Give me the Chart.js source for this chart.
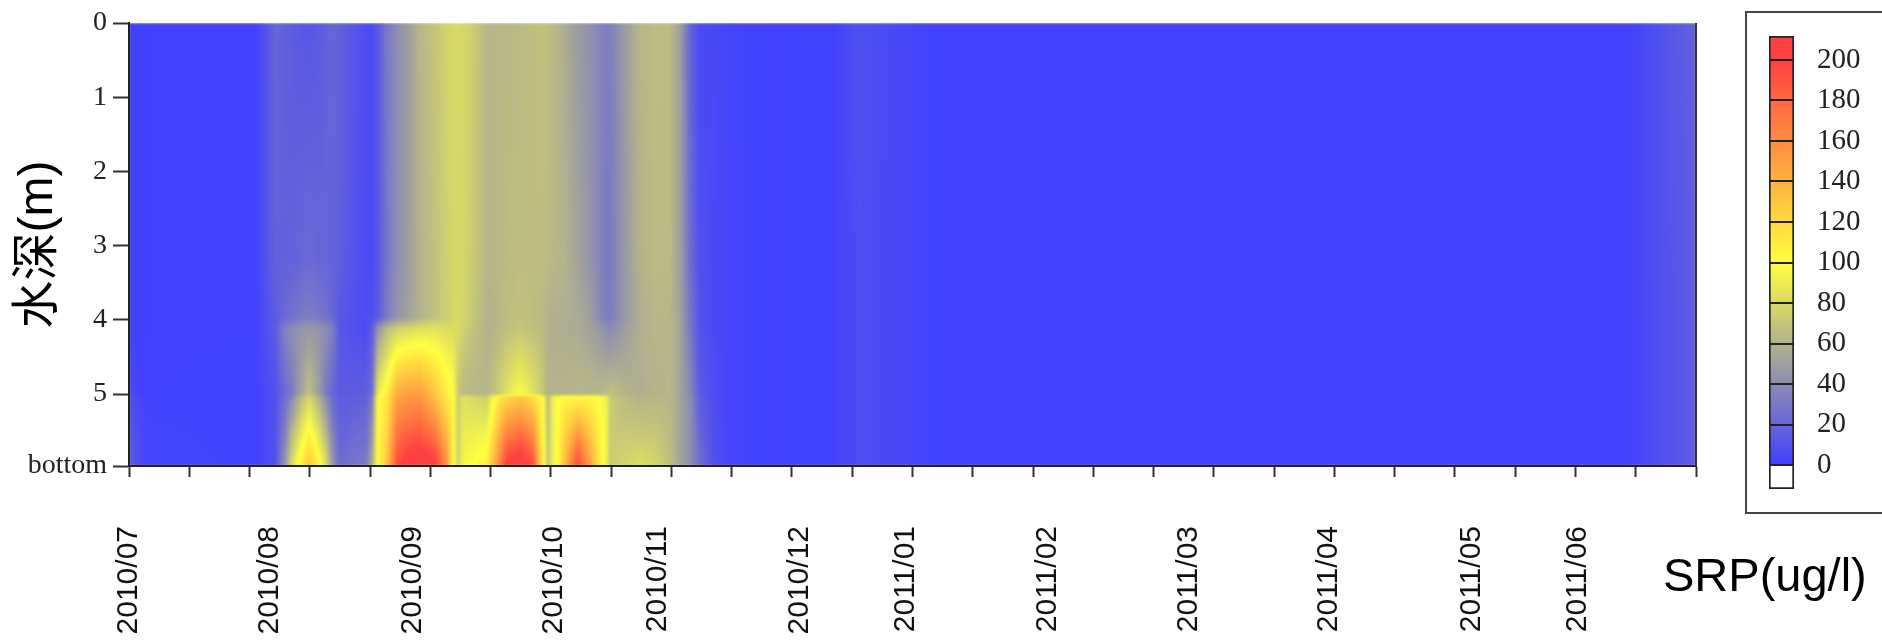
<!DOCTYPE html>
<html>
<head>
<meta charset="utf-8">
<title>SRP</title>
<script src="https://cdn.jsdelivr.net/npm/chart.js@4"></script>
<style>
    html, body { margin: 0; padding: 0; background: #fff; }
    #main { position: absolute; left: 0; top: 0; }
    #colorBox { position: absolute; left: 1745px; top: 11px; width: 135px; height: 499px; border: 2px solid #444; }
    #colorBar { position: absolute; left: 0; top: 0; }
</style>
</head>
<body>
<canvas id="main" width="1882" height="640"></canvas>
<div id="colorBox"><canvas id="colorBar" width="135" height="499"></canvas></div>
<script>
const depthTicks = [0, 1, 2, 3, 4, 5, 5.97];
const depthLabels = ['0', '1', '2', '3', '4', '5', 'bottom'];
const monthTicks = [0, 2.34, 4.70, 7.05, 8.78, 11.13, 12.88, 15.25, 17.59, 19.91, 22.28, 24.03];
const monthLabels = ['2010/07', '2010/08', '2010/09', '2010/10', '2010/11', '2010/12', '2011/01', '2011/02', '2011/03', '2011/04', '2011/05', '2011/06'];
const legendTicks = [0, 20, 40, 60, 80, 100, 120, 140, 160, 180, 200];

// sample positions along the time axis, in axis tick units
const sampleX = [
    0, 0.27, 2.09, 2.21, 2.42, 2.59, 2.70, 2.84, 2.99, 3.14,
    3.27, 3.38, 3.50, 3.70, 3.93, 4.03, 4.13, 4.28, 4.45, 4.61,
    4.83, 5.08, 5.28, 5.38, 5.46, 5.54, 5.71, 5.94, 6.02, 6.16,
    6.27, 6.49, 6.70, 6.82, 6.90, 6.95, 7.02, 7.10, 7.23, 7.45,
    7.65, 7.81, 7.93, 7.98, 8.23, 8.48, 8.73, 8.98, 9.14, 9.31,
    9.47, 9.72, 9.97, 10.64, 11.71, 12.13, 12.79, 13.46, 24.74, 25.07,
    25.40, 25.74, 26
];

// SRP (ug/l) read at each depth
const srpDepth0 = [
    0, 0, 0, 6, 20, 17, 15, 13, 12, 14,
    17, 20, 18, 12, 7, 5, 14, 30, 40, 48,
    62, 70, 77, 79, 80, 79, 74, 62, 62, 62,
    63, 64, 66, 67, 68, 66, 64, 62, 56, 48,
    42, 36, 33, 33, 48, 62, 65, 65, 50, 20,
    5, 4, 2, 0, 1, 8, 4, 0, 0, 3,
    9, 14, 18
];
const srpDepth3 = [
    0, 0, 0, 6, 18, 18, 18, 20, 22, 20,
    20, 19, 16, 11, 6, 5, 12, 28, 40, 48,
    60, 68, 75, 78, 79, 78, 72, 62, 62, 63,
    64, 66, 66, 66, 65, 64, 63, 62, 60, 52,
    44, 36, 30, 30, 46, 60, 64, 64, 50, 24,
    8, 5, 2, 0, 1, 7, 4, 0, 0, 3,
    9, 12, 16
];
const srpDepth4 = [
    0, 0, 0, 5, 14, 22, 26, 30, 32, 30,
    26, 20, 12, 9, 6, 8, 14, 32, 44, 50,
    60, 68, 74, 78, 80, 78, 70, 60, 60, 63,
    66, 68, 66, 64, 62, 60, 58, 58, 58, 56,
    50, 38, 32, 32, 46, 58, 62, 62, 52, 28,
    10, 5, 2, 0, 1, 7, 4, 0, 0, 3,
    8, 12, 16
];
const srpDepth4b = [
    0, 0, 0, 5, 14, 35, 40, 44, 46, 44,
    40, 32, 12, 9, 6, 15, 45, 65, 76, 80,
    84, 85, 82, 82, 80, 76, 68, 60, 60, 64,
    67, 70, 67, 65, 62, 60, 58, 58, 58, 56,
    52, 46, 40, 38, 50, 58, 62, 62, 52, 30,
    10, 5, 2, 0, 1, 7, 4, 0, 0, 3,
    8, 12, 16
];
const srpDepth5 = [
    6, 0, 1, 3, 9, 22, 30, 50, 68, 50,
    30, 20, 14, 15, 16, 22, 90, 108, 145, 150,
    152, 130, 108, 100, 72, 64, 62, 62, 66, 75,
    85, 98, 85, 75, 66, 60, 60, 60, 60, 62,
    62, 62, 64, 68, 60, 58, 60, 62, 52, 38,
    14, 6, 2, 0, 1, 7, 4, 0, 0, 3,
    8, 12, 16
];
const srpDepth5b = [
    8, 1, 1, 3, 9, 24, 38, 60, 80, 60,
    38, 22, 15, 16, 17, 30, 100, 112, 148, 152,
    155, 132, 110, 102, 72, 84, 80, 75, 92, 112,
    120, 128, 118, 106, 90, 62, 90, 98, 105, 102,
    105, 98, 92, 72, 64, 60, 62, 62, 52, 40,
    16, 6, 2, 0, 1, 7, 4, 0, 0, 3,
    8, 12, 16
];
const srpBottom = [
    16, 2, 1, 3, 8, 45, 82, 108, 130, 108,
    82, 45, 22, 27, 30, 55, 105, 130, 195, 210,
    215, 205, 155, 102, 76, 95, 100, 110, 130, 170,
    205, 218, 195, 130, 95, 70, 90, 100, 135, 200,
    150, 112, 90, 72, 78, 82, 78, 66, 52, 42,
    24, 8, 2, 0, 1, 7, 4, 0, 0, 3,
    8, 12, 16
];

const sampleDepths = [0, 3.2, 3.97, 4.12, 5, 5.04, 5.97];
const srpRows = [srpDepth0, srpDepth3, srpDepth4, srpDepth4b, srpDepth5, srpDepth5b, srpBottom];

const LOW = [64, 64, 255];
const MID = [255, 255, 64];
const HIGH = [255, 64, 64];

function srpColor(v) {
    const from = v < 100 ? LOW : MID;
    const to = v < 100 ? MID : HIGH;
    const t = Math.max(0, Math.min(1, v < 100 ? v / 100 : (v - 100) / 100));
    return [0, 1, 2].map(i => Math.round(from[i] + (to[i] - from[i]) * t));
}

function findSegment(list, value) {
    let i = 0;
    while (i < list.length - 2 && list[i + 1] < value) i++;
    const t = (value - list[i]) / (list[i + 1] - list[i]);
    return [i, Math.max(0, Math.min(1, t))];
}

// paints the field inside the chart area, each pixel taken back through the scales
const heatmapPlugin = {
    id: 'heatmap',
    beforeDatasetsDraw(chart) {
        const { ctx, chartArea, scales } = chart;
        const left = Math.round(chartArea.left);
        const top = Math.round(chartArea.top);
        const width = Math.round(chartArea.right) - left;
        const height = Math.round(chartArea.bottom) - top;
        const rows = chart.data.datasets.map(ds => ds.data.map(p => p.v));
        const xs = chart.data.datasets[0].data.map(p => p.x);
        const ys = chart.data.datasets.map(ds => ds.data[0].y);
        const image = ctx.createImageData(width, height);
        for (let py = 0; py < height; py++) {
            const [r, tr] = findSegment(ys, scales.y.getValueForPixel(top + py + 0.5));
            for (let px = 0; px < width; px++) {
                const [c, tc] = findSegment(xs, scales.x.getValueForPixel(left + px + 0.5));
                const upper = rows[r][c] + (rows[r][c + 1] - rows[r][c]) * tc;
                const lower = rows[r + 1][c] + (rows[r + 1][c + 1] - rows[r + 1][c]) * tc;
                const color = srpColor(upper + (lower - upper) * tr);
                const at = (py * width + px) * 4;
                image.data[at] = color[0];
                image.data[at + 1] = color[1];
                image.data[at + 2] = color[2];
                image.data[at + 3] = 255;
            }
        }
        const layer = document.createElement('canvas');
        layer.width = width;
        layer.height = height;
        layer.getContext('2d').putImageData(image, 0, 0);
        ctx.save();
        ctx.filter = 'blur(1.2px)';
        ctx.beginPath();
        ctx.rect(left, top, width, height);
        ctx.clip();
        ctx.drawImage(layer, left, top);
        ctx.restore();
    },
    afterDraw(chart) {
        const { ctx, chartArea } = chart;
        ctx.save();
        ctx.strokeStyle = '#333';
        ctx.lineWidth = 2;
        ctx.beginPath();
        ctx.moveTo(chartArea.right, chartArea.top);
        ctx.lineTo(chartArea.right, chartArea.bottom);
        ctx.stroke();
        ctx.fillStyle = '#000';
        ctx.font = '47px "Liberation Sans"';
        ctx.textAlign = 'left';
        ctx.textBaseline = 'alphabetic';
        ctx.fillText('SRP(ug/l)', 1663, 591);
        ctx.restore();
    }
};

function setTicks(values) {
    return scale => { scale.ticks = values.map(value => ({ value })); };
}

new Chart(document.getElementById('main'), {
    type: 'scatter',
    data: {
        datasets: srpRows.map((row, r) => ({
            label: sampleDepths[r] + ' m',
            data: row.map((v, i) => ({ x: sampleX[i], y: sampleDepths[r], v })),
            pointRadius: 0,
            showLine: false
        }))
    },
    plugins: [heatmapPlugin],
    options: {
        responsive: false,
        animation: false,
        events: [],
        layout: { padding: { left: 0, right: 186, top: 23, bottom: 0 } },
        plugins: { legend: { display: false }, tooltip: { enabled: false } },
        scales: {
            x: {
                type: 'linear',
                min: 0,
                max: 26,
                weight: 0,
                afterBuildTicks: setTicks(Array.from({ length: 27 }, (_, i) => i)),
                afterFit: scale => { scale.height = 30; },
                grid: { drawOnChartArea: false, tickLength: 11, tickWidth: 2, tickColor: '#333' },
                border: { color: '#222', width: 2, z: 1 },
                ticks: { autoSkip: false, maxRotation: 0, callback: () => '' }
            },
            monthAxis: {
                type: 'linear',
                axis: 'x',
                position: 'bottom',
                min: 0,
                max: 26,
                weight: 1,
                afterBuildTicks: setTicks(monthTicks),
                afterFit: scale => { scale.height = 144; },
                grid: { display: false },
                border: { display: false },
                ticks: {
                    autoSkip: false,
                    minRotation: 90,
                    maxRotation: 90,
                    padding: 22,
                    color: '#111',
                    font: { family: '"Liberation Sans"', size: 30 },
                    callback: (v, i) => monthLabels[i]
                }
            },
            y: {
                type: 'linear',
                reverse: true,
                min: 0,
                max: 5.97,
                afterBuildTicks: setTicks(depthTicks),
                afterFit: scale => { scale.width = 129; },
                grid: { drawOnChartArea: false, tickLength: 16, tickWidth: 2, tickColor: '#333' },
                border: { color: '#222', width: 2, z: 1 },
                title: {
                    display: true,
                    text: '水深(m)',
                    color: '#000',
                    padding: { top: 10, bottom: 0 },
                    font: { family: '"Liberation Sans", "Noto Sans CJK SC"', size: 48, weight: 'normal' }
                },
                ticks: {
                    autoSkip: false,
                    padding: 6,
                    color: '#222',
                    font: { family: '"Liberation Serif"', size: 28 },
                    callback: (v, i) => depthLabels[i]
                }
            }
        }
    }
});

function barGradient(context) {
    const { ctx, chartArea, scales } = context.chart;
    if (!chartArea) return `rgb(${LOW})`;
    const gradient = ctx.createLinearGradient(0, scales.y.getPixelForValue(0), 0, scales.y.getPixelForValue(200));
    gradient.addColorStop(0, `rgb(${srpColor(0)})`);
    gradient.addColorStop(0.5, `rgb(${srpColor(100)})`);
    gradient.addColorStop(1, `rgb(${srpColor(200)})`);
    return gradient;
}

new Chart(document.getElementById('colorBar'), {
    type: 'bar',
    data: {
        labels: ['SRP'],
        datasets: [
            { data: [[0, 211.85]], backgroundColor: barGradient, borderColor: '#222', borderWidth: { top: 2, left: 2, right: 2, bottom: 0 }, borderSkipped: false, grouped: false },
            { data: [[-11.85, 0]], backgroundColor: '#fff', borderColor: '#222', borderWidth: { top: 0, left: 2, right: 2, bottom: 2 }, borderSkipped: false, grouped: false }
        ]
    },
    options: {
        responsive: false,
        animation: false,
        events: [],
        layout: { autoPadding: false, padding: { left: 22, top: 23, bottom: 23, right: 0 } },
        plugins: { legend: { display: false }, tooltip: { enabled: false } },
        datasets: { bar: { barPercentage: 1, categoryPercentage: 1 } },
        scales: {
            x: { display: true, ticks: { display: false }, grid: { display: false, drawTicks: false }, border: { display: false }, afterFit: scale => { scale.height = 0; } },
            y: {
                position: 'right',
                min: -11.85,
                max: 211.85,
                afterBuildTicks: setTicks(legendTicks),
                afterFit: scale => { scale.width = 88; scale.paddingTop = 0; scale.paddingBottom = 0; },
                grid: { color: '#222', lineWidth: 2, drawTicks: false, z: 1 },
                border: { display: false },
                ticks: {
                    autoSkip: false,
                    padding: 23,
                    color: '#222',
                    font: { family: '"Liberation Serif"', size: 29 },
                    callback: (v, i) => String(legendTicks[i])
                }
            }
        }
    }
});
</script>
</body>
</html>
